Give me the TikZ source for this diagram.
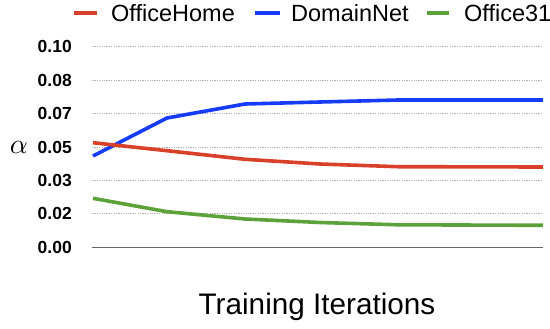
\documentclass[tikz,border=0pt]{standalone}
\usepackage{fontspec}
\setmainfont{Liberation Sans}
\definecolor{cred}{RGB}{217,64,42}
\definecolor{cblue}{RGB}{22,60,248}
\definecolor{cgreen}{RGB}{92,162,58}
\begin{document}
\begin{tikzpicture}[x=1pt,y=-1pt,
  grid/.style={gray!60, line width=0.6pt, dash pattern=on 1.2pt off 1.2pt},
  series/.style={line width=3.6pt, line join=round},
  ticklab/.style={anchor=east, inner sep=0pt, font=\fontsize{17.5}{18}\selectfont\bfseries},
  legtext/.style={anchor=west, inner sep=0pt, font=\fontsize{23.5}{24}\selectfont},
  legline/.style={line width=3.6pt}]
\useasboundingbox (0,0) rectangle (550,329);
% grid
\foreach \y/\l [count=\i] in {46.7/0.10,80.3/0.08,113.3/0.07,147/0.05,180.3/0.03,213.3/0.02} {
  \draw[grid] (92,\y) -- (542,\y);
  \node[ticklab] (t\i) at (72,\y) {\l};
}
\draw[gray!80!black, line width=1pt] (92,247.3) -- (543,247.3);
\node[ticklab] (t7) at (72,247.3) {0.00};
\node[inner sep=0pt, scale=2.8] (alpha) at (19,147.5) {$\alpha$};
% series
\draw[series, cblue] (93,156) -- (167,118) -- (245,104) -- (320,102) -- (398,100) -- (543,100);
\draw[series, cred] (93,142.7) -- (167,150.7) -- (245,159.3) -- (320,164) -- (398,166.7) -- (543,167);
\draw[series, cgreen] (93,198.3) -- (167,211.7) -- (245,219) -- (320,222.5) -- (398,224.8) -- (543,225.3);
% legend
\coordinate (l1a) at (74,13); \coordinate (l1b) at (97,13);
\draw[legline, cred] (l1a) -- (l1b);
\node[legtext] (leg1) at (111,13) {OfficeHome};
\coordinate (l2a) at (255,13); \coordinate (l2b) at (280,13);
\draw[legline, cblue] (l2a) -- (l2b);
\node[legtext] (leg2) at (291,13) {DomainNet};
\coordinate (l3a) at (427,13); \coordinate (l3b) at (449,13);
\draw[legline, cgreen] (l3a) -- (l3b);
\node[legtext] (leg3) at (464,13) {Office31};
% axis title
\node[inner sep=0pt, font=\fontsize{29.7}{30}\selectfont] (xlab) at (317,307) {Training Iterations};
\end{tikzpicture}
\end{document}
